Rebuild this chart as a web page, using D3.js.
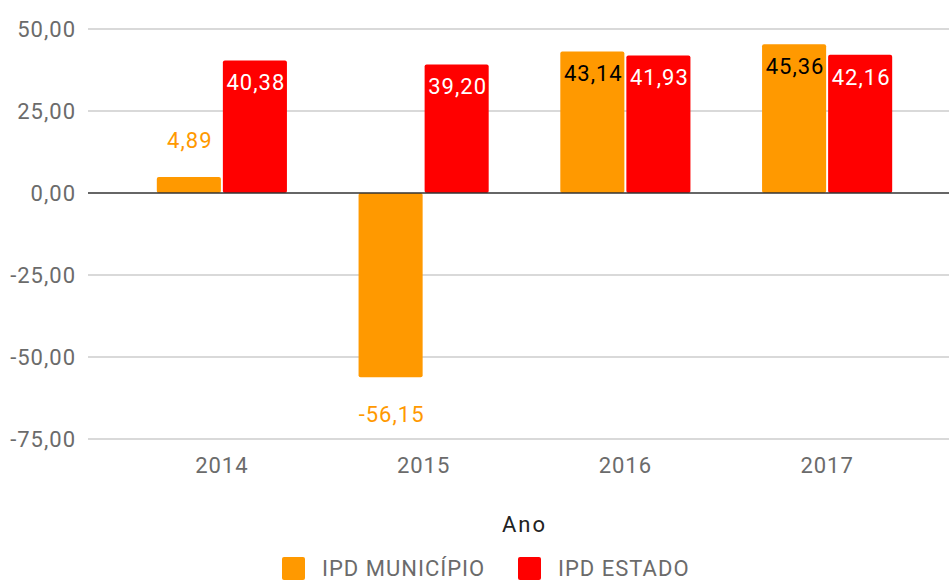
<!DOCTYPE html>
<html>
<head>
<meta charset="utf-8">
<script src="https://cdn.jsdelivr.net/npm/d3@7"></script>
<style>
  body { margin: 0; background: #fff; }
  text { font-family: Roboto, "Noto Sans", sans-serif; }
</style>
</head>
<body>
<script>
// data
const years = ["2014", "2015", "2016", "2017"];
const seriesNames = ["IPD MUNICÍPIO", "IPD ESTADO"];
const municipio = [4.89, -56.15, 43.14, 45.36];
const estado = [40.38, 39.20, 41.93, 42.16];
const yTicks = [-75, -50, -25, 0, 25, 50];
const colors = ["#ff9900", "#ff0000"];

const width = 949;
const height = 580;
const marginLeft = 121;
const marginRight = 21;
const yTop = 29;
const yBottom = 439;
const fs = 22;
const ls = 1;

const fmt = v => d3.format(".2f")(v).replace(".", ",").replace("−", "-");

const svg = d3.select("body").append("svg")
    .attr("width", width)
    .attr("height", height);

const x = d3.scaleBand()
    .domain(years)
    .range([marginLeft, width - marginRight]);

const groupW = x.bandwidth() * 0.645;
const x1 = d3.scaleBand()
    .domain([0, 1])
    .range([0, groupW])
    .paddingInner(0.03);

const y = d3.scaleLinear()
    .domain([-75, 50])
    .range([yBottom, yTop]);

// gridlines
svg.append("g")
    .selectAll("line")
    .data(yTicks.filter(d => d !== 0))
    .join("line")
    .attr("x1", 88)
    .attr("x2", width)
    .attr("y1", d => y(d))
    .attr("y2", d => y(d))
    .attr("stroke", "#cccccc")
    .attr("stroke-width", 1.5);

// y labels
svg.append("g")
    .selectAll("text")
    .data(yTicks)
    .join("text")
    .attr("x", 76)
    .attr("y", d => y(d))
    .attr("dy", "0.36em")
    .attr("text-anchor", "end")
    .attr("fill", "#6b6b6b")
    .attr("font-size", fs)
    .attr("letter-spacing", ls)
    .text(d => fmt(d));

const rows = years.map((yr, i) => ({ year: yr, values: [municipio[i], estado[i]] }));

const groups = svg.append("g")
    .selectAll("g")
    .data(rows)
    .join("g")
    .attr("transform", d => `translate(${x(d.year) + (x.bandwidth() - groupW) / 2},0)`);

groups.selectAll("rect")
    .data(d => d.values.map((v, k) => ({ v, k })))
    .join("rect")
    .attr("x", d => x1(d.k))
    .attr("width", x1.bandwidth())
    .attr("y", d => y(Math.max(0, d.v)))
    .attr("height", d => Math.abs(y(d.v) - y(0)))
    .attr("rx", 2)
    .attr("fill", d => colors[d.k]);

// zero line
svg.append("line")
    .attr("x1", 88)
    .attr("x2", width)
    .attr("y1", y(0))
    .attr("y2", y(0))
    .attr("stroke", "#333")
    .attr("stroke-width", 1.5);

// value labels: large positive bars get the label inside, others outside
const inside = d => d.v > 10;
groups.selectAll("text")
    .data(d => d.values.map((v, k) => ({ v, k })))
    .join("text")
    .attr("x", d => x1(d.k) + x1.bandwidth() / 2 + 1)
    .attr("y", d => {
        if (inside(d)) return y(d.v) + 22;
        return d.v >= 0 ? y(d.v) - 37 : y(d.v) + 37;
    })
    .attr("dy", "0.36em")
    .attr("text-anchor", "middle")
    .attr("font-size", fs)
    .attr("letter-spacing", ls)
    .attr("fill", d => {
        if (inside(d)) return d.k === 0 ? "#000" : "#fff";
        return colors[d.k];
    })
    .text(d => fmt(d.v));

// x labels
svg.append("g")
    .selectAll("text")
    .data(years)
    .join("text")
    .attr("x", d => x(d) + x.bandwidth() / 2)
    .attr("y", 465)
    .attr("dy", "0.36em")
    .attr("text-anchor", "middle")
    .attr("fill", "#6b6b6b")
    .attr("font-size", fs)
    .attr("letter-spacing", ls)
    .text(d => d);

// axis title
svg.append("text")
    .attr("x", (marginLeft + width - marginRight) / 2)
    .attr("y", 524)
    .attr("dy", "0.36em")
    .attr("text-anchor", "middle")
    .attr("fill", "#222")
    .attr("font-size", fs)
    .attr("letter-spacing", ls + 1)
    .text("Ano");

// legend
const legendX = [282, 518];
const legend = svg.append("g")
    .selectAll("g")
    .data(seriesNames)
    .join("g")
    .attr("transform", (d, i) => `translate(${legendX[i]},557)`);

legend.append("rect")
    .attr("width", 23)
    .attr("height", 23)
    .attr("rx", 2)
    .attr("fill", (d, i) => colors[i]);

legend.append("text")
    .attr("x", 40)
    .attr("y", 11.5)
    .attr("dy", "0.36em")
    .attr("fill", "#6b6b6b")
    .attr("font-size", fs)
    .attr("letter-spacing", ls)
    .text(d => d);
</script>
</body>
</html>
